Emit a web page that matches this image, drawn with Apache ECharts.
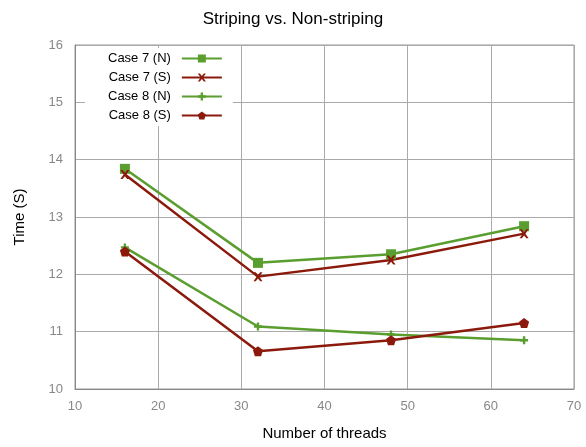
<!DOCTYPE html>
<html><head><meta charset="utf-8">
<script src="https://cdn.jsdelivr.net/npm/echarts@6/dist/echarts.min.js"></script>
<style>html,body{margin:0;padding:0;background:#fff}#c{width:586px;height:447px}</style>
</head><body><div id="c"></div>
<script>
const threads = [16, 32, 48, 64];
const case7N = [13.84, 12.20, 12.35, 12.84];
const case7S = [13.74, 11.96, 12.25, 12.71];
const case8N = [12.47, 11.09, 10.95, 10.85];
const case8S = [12.40, 10.66, 10.85, 11.15];
const seriesNames = ['Case 7 (N)', 'Case 7 (S)', 'Case 8 (N)', 'Case 8 (S)'];

const GREEN = '#5a9e2f', RED = '#8c1a0c';
const X_PATH = 'path://M0,0 L2.5,0 L5,3 L7.5,0 L10,0 L6.5,5 L10,10 L7.5,10 L5,7 L2.5,10 L0,10 L3.5,5 Z';
const PLUS_PATH = 'path://M3.5,0 H6.5 V3.5 H10 V6.5 H6.5 V10 H3.5 V6.5 H0 V3.5 H3.5 Z';
const PENT_PATH = 'path://M5,0 L10,3.8 L8.1,10 L1.9,10 L0,3.8 Z';

function mk(name, vals, color, symbol, size) {
  return {
    name, type: 'line', data: threads.map((t, i) => [t, vals[i]]),
    symbol, symbolSize: size, showSymbol: true,
    lineStyle: { color, width: 2.5 }, itemStyle: { color },
    emphasis: { disabled: true }, animation: false
  };
}

const chart = echarts.init(document.getElementById('c'), null, { renderer: 'canvas' });
chart.setOption({
  animation: false,
  textStyle: { fontFamily: 'Liberation Sans, Arial, sans-serif' },
  title: { text: 'Striping vs. Non-striping', left: 'center', top: 6,
    textStyle: { fontSize: 17, fontWeight: 'normal', color: '#000' } },
  legend: {
    orient: 'vertical', align: 'right', left: 85, top: 48,
    itemWidth: 40, itemHeight: 10, itemGap: 6,
    backgroundColor: '#fff', padding: [4, 10, 4, 23],
    textStyle: { fontSize: 13, color: '#000', padding: [0, 6, 0, 0] },
    data: seriesNames
  },
  grid: { left: 75, right: 12, top: 45, bottom: 58, show: true, borderColor: '#999', borderWidth: 1 },
  xAxis: {
    type: 'value', min: 10, max: 70, interval: 10,
    name: 'Number of threads', nameLocation: 'middle', nameGap: 37,
    nameTextStyle: { fontSize: 15, color: '#000' },
    axisLine: { show: true, lineStyle: { color: '#888' } },
    axisTick: { show: false },
    axisLabel: { fontSize: 13, color: '#888', margin: 11 },
    splitLine: { show: true, lineStyle: { color: '#aaa', width: 1 } }
  },
  yAxis: {
    type: 'value', min: 10, max: 16, interval: 1,
    name: 'Time (S)', nameLocation: 'middle', nameGap: 48, nameRotate: 90,
    nameTextStyle: { fontSize: 15, color: '#000' },
    axisLine: { show: true, lineStyle: { color: '#888' } },
    axisTick: { show: false },
    axisLabel: { fontSize: 13, color: '#888', margin: 12 },
    splitLine: { show: true, lineStyle: { color: '#aaa', width: 1 } }
  },
  series: [
    mk(seriesNames[0], case7N, GREEN, 'rect', 10),
    mk(seriesNames[1], case7S, RED, X_PATH, 9),
    mk(seriesNames[2], case8N, GREEN, PLUS_PATH, 8),
    mk(seriesNames[3], case8S, RED, PENT_PATH, 10)
  ]
});
</script></body></html>
